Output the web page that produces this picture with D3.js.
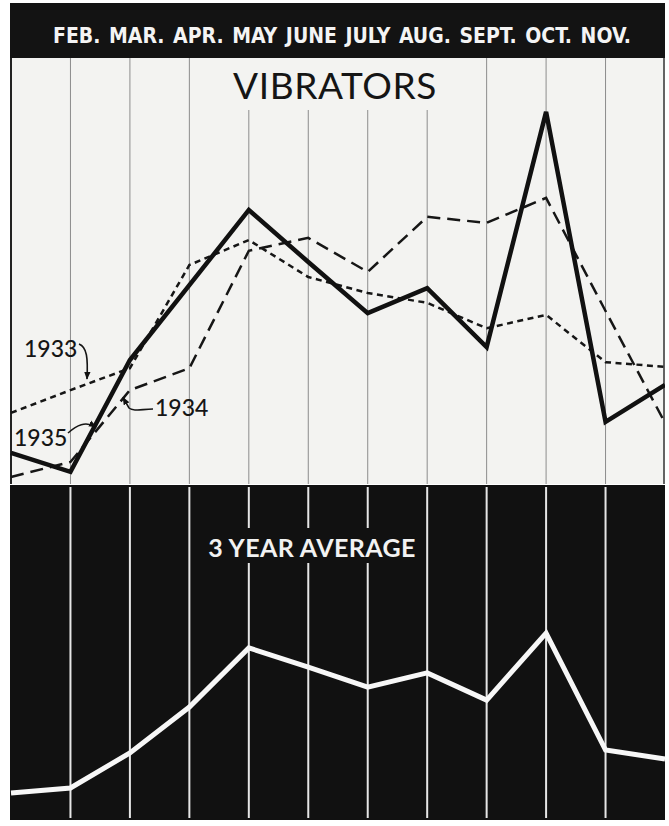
<!DOCTYPE html>
<html><head><meta charset="utf-8">
<script src="https://cdn.jsdelivr.net/npm/d3@7"></script>
<style>html,body{margin:0;padding:0;background:#fff}</style>
</head><body><svg id="c" width="669" height="826"></svg>
<script>
// ---------------- data ----------------
const months = ["JAN.","FEB.","MAR.","APR.","MAY","JUNE","JULY","AUG.","SEPT.","OCT.","NOV.","DEC."];
const tickLabels = ["FEB.","MAR.","APR.","MAY","JUNE","JULY","AUG.","SEPT.","OCT.","NOV."];
const sales1933 = [16.3, 21.6, 26.7, 50.7, 56.5, 47.9, 44.2, 41.9, 36.0, 39.1, 28.1, 27.0];
const sales1934 = [1.4, 4.9, 21.6, 26.7, 54.0, 57.0, 49.1, 61.9, 60.5, 66.3, 40.0, 14.0];
const sales1935 = [7.0, 2.6, 28.6, 46.0, 63.5, 51.4, 39.5, 45.3, 31.6, 86.3, 14.2, 22.8];
const average3yr = [8.3, 10.0, 22.1, 37.9, 58.3, 51.7, 44.8, 49.7, 40.3, 63.4, 23.1, 20.0];
const seriesNames = ["1933", "1934", "1935"];
const titleText = "VIBRATORS";
const avgTitle = "3 YEAR AVERAGE";

// ---------------- layout ----------------
const L = 11, R = 665;
const frameL = 10, frameR = 665;
const headerTop = 3, headerBottom = 58;
const panelBottom = 484, darkTop = 485, darkBottom = 820;

const svg = d3.select("#c");
const x = d3.scalePoint().domain(months).range([L, R]);
const yTop = d3.scaleLinear().domain([0, 100]).range([483, 53]);
const yBot = d3.scaleLinear().domain([0, 100]).range([817, 527]);

const defs = svg.append("defs");
defs.append("marker").attr("id", "ah").attr("viewBox", "0 0 10 10")
  .attr("refX", 9).attr("refY", 5).attr("markerWidth", 5).attr("markerHeight", 5)
  .attr("orient", "auto")
  .append("path").attr("d", "M0,1 L10,5 L0,9 z").attr("fill", "#111");
defs.append("clipPath").attr("id", "clipTop").append("rect")
  .attr("x", frameL).attr("y", headerBottom).attr("width", frameR - frameL).attr("height", panelBottom - headerBottom);

// header
svg.append("rect").attr("x", frameL).attr("y", headerTop).attr("width", frameR - frameL)
  .attr("height", headerBottom - headerTop).attr("fill", "#131313");

// white panel
svg.append("rect").attr("x", frameL).attr("y", headerBottom).attr("width", frameR - frameL)
  .attr("height", panelBottom - headerBottom).attr("fill", "#f3f3f1");

// grid lines top
const titleZone = [215, 460];
svg.append("g").selectAll("line").data(tickLabels).join("line")
  .attr("x1", d => x(d)).attr("x2", d => x(d))
  .attr("y1", d => (x(d) > titleZone[0] && x(d) < titleZone[1]) ? 110 : headerBottom)
  .attr("y2", panelBottom)
  .attr("stroke", "#8c8c8c").attr("stroke-width", 1);

// frame sides of top panel
svg.append("line").attr("x1", frameL + 1).attr("x2", frameL + 1).attr("y1", headerBottom).attr("y2", panelBottom)
  .attr("stroke", "#222").attr("stroke-width", 2);
svg.append("line").attr("x1", frameR - 1).attr("x2", frameR - 1).attr("y1", headerBottom).attr("y2", panelBottom)
  .attr("stroke", "#333").attr("stroke-width", 1.5);

// header labels: laid out like a typed line from 53 to 631
const hdr = svg.append("g").attr("font-family", "'Liberation Sans Narrow', 'DejaVu Sans Condensed', sans-serif")
  .attr("font-weight", 700).attr("font-size", 21).attr("fill", "#f4f4f4");
const hTexts = hdr.selectAll("text").data(tickLabels).join("text").attr("y", 43).text(d => d);
const widths = [];
hTexts.each(function () { widths.push(this.getComputedTextLength()); });
const hStart = 53, hEnd = 631;
const gap = (hEnd - hStart - d3.sum(widths)) / (tickLabels.length - 1);
let cx = hStart;
hTexts.attr("x", (d, i) => { const v = cx; cx += widths[i] + gap; return v; });

// title
svg.append("text").attr("x", 335).attr("y", 99).attr("text-anchor", "middle")
  .attr("font-family", "Lato, 'DejaVu Sans', sans-serif").attr("font-weight", 400)
  .attr("font-size", 37).attr("letter-spacing", 0.6).attr("fill", "#151515").text(titleText);

// series lines
const line = d3.line().x((d, i) => x(months[i])).y(d => yTop(d));
const gTop = svg.append("g").attr("clip-path", "url(#clipTop)");
gTop.append("path").datum(sales1933).attr("d", line).attr("fill", "none")
  .attr("stroke", "#161616").attr("stroke-width", 2.5).attr("stroke-dasharray", "6,4.5");
gTop.append("path").datum(sales1934).attr("d", line).attr("fill", "none")
  .attr("stroke", "#161616").attr("stroke-width", 2.5).attr("stroke-dasharray", "13,7");
gTop.append("path").datum(sales1935).attr("d", line).attr("fill", "none")
  .attr("stroke", "#111").attr("stroke-width", 4.5).attr("stroke-linejoin", "miter");

// helper: y-pixel on a series at pixel x
function yAt(series, px) {
  const step = x.step();
  const i = Math.min(months.length - 2, Math.floor((px - L) / step));
  const t = (px - x(months[i])) / step;
  return yTop(series[i] + (series[i + 1] - series[i]) * t);
}

// labels & arrows
const lab = svg.append("g").attr("font-family", "Lato, 'DejaVu Sans', sans-serif")
  .attr("font-weight", 500).attr("font-size", 23).attr("fill", "#151515");
lab.append("text").attr("x", 24).attr("y", 357).text(seriesNames[0]);
lab.append("text").attr("x", 155).attr("y", 416).text(seriesNames[1]);
lab.append("text").attr("x", 14).attr("y", 446).text(seriesNames[2]);

const arrows = svg.append("g").attr("fill", "none").attr("stroke", "#151515").attr("stroke-width", 1.6);
const t33 = [87, yAt(sales1933, 87) - 5];
arrows.append("path").attr("d", `M79,344 C87,347 88,358 ${t33[0]},${t33[1]}`).attr("marker-end", "url(#ah)");
const t34 = [123, yAt(sales1934, 123) - 1];
arrows.append("path").attr("d", `M153,409 C142,409 134,412 129,408 L${t34[0]},${t34[1]}`).attr("marker-end", "url(#ah)");
const t35 = [96, yAt(sales1935, 96) + 3];
arrows.append("path").attr("d", `M68,433 C77,425 85,421 ${t35[0]},${t35[1]}`).attr("marker-end", "url(#ah)");

// dark panel
svg.append("rect").attr("x", frameL).attr("y", darkTop).attr("width", frameR - frameL)
  .attr("height", darkBottom - darkTop).attr("fill", "#111");

const avgZone = [200, 420];
const gB = svg.append("g").attr("stroke", "#e6e6e6").attr("stroke-width", 2);
tickLabels.forEach(d => {
  const px = x(d);
  if (px > avgZone[0] && px < avgZone[1]) {
    gB.append("line").attr("x1", px).attr("x2", px).attr("y1", darkTop + 2).attr("y2", 528);
    gB.append("line").attr("x1", px).attr("x2", px).attr("y1", 563).attr("y2", darkBottom - 2);
  } else {
    gB.append("line").attr("x1", px).attr("x2", px).attr("y1", darkTop + 2).attr("y2", darkBottom - 2);
  }
});

svg.append("text").attr("x", 312).attr("y", 557).attr("text-anchor", "middle")
  .attr("font-family", "Lato, 'DejaVu Sans', sans-serif").attr("font-weight", 700)
  .attr("font-size", 25).attr("letter-spacing", 0.4).attr("fill", "#f2f2f2").text(avgTitle);

const lineB = d3.line().x((d, i) => x(months[i])).y(d => yBot(d));
svg.append("path").datum(average3yr).attr("d", lineB).attr("fill", "none")
  .attr("stroke", "#f7f7f7").attr("stroke-width", 5).attr("stroke-linejoin", "miter");
</script></body></html>
